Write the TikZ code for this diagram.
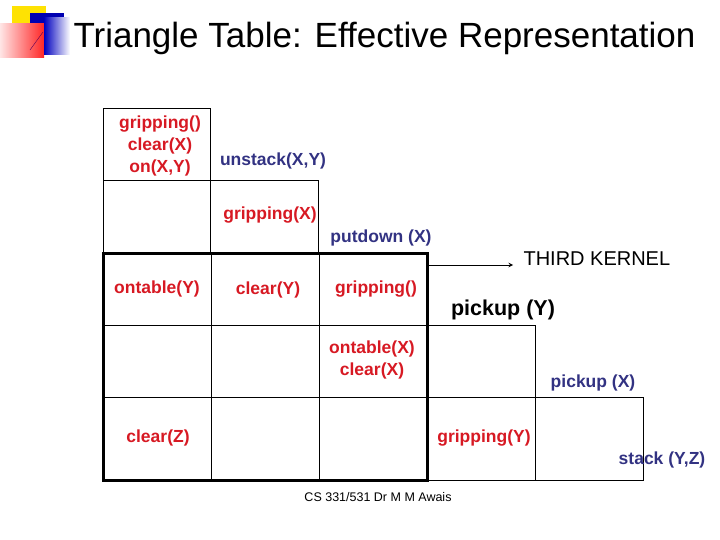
\documentclass[tikz,border=0pt]{standalone}
\usepackage{fontspec}
\setmainfont{Liberation Sans}
\definecolor{rd}{RGB}{215,25,35}
\definecolor{bl}{RGB}{50,50,130}
\begin{document}
\begin{tikzpicture}[x=1pt,y=-1pt,
  cell/.style={draw=black,line width=0.8pt},
  rtxt/.style={text=rd,font=\fontsize{17.5}{22}\selectfont\bfseries,align=center},
  btxt/.style={text=bl,font=\fontsize{17.5}{22}\selectfont\bfseries,align=center}]
\useasboundingbox (0,0) rectangle (720,540);
% logo
\fill[yellow!85!orange] (12,6) rectangle (46,26);
\fill[blue!70!black] (30,13) rectangle (64,53);
\shade[left color=red!10,right color=red!85] (0,24) rectangle (44,58);
\shade[left color=blue!75!black,right color=white] (44,18) rectangle (70,55);
\draw[violet!70!black] (30,50) -- (43,32);
\node[anchor=west,font=\fontsize{35}{38}\selectfont] (title) at (70,38) {Triangle Table: Effective Representation};
% grid
\draw[cell] (103,108) rectangle (210,180);
\draw[cell] (103,180) rectangle (210,253);
\draw[cell] (210,180) rectangle (318,253);
\foreach \r/\a/\b in {253/325/3,325/397/4,397/480/5}{
  \foreach \c in {1,...,\b}{
    \draw[cell] ({103+(\c-1)*108},\r) rectangle ({103+\c*108},\a);
  }
}
\draw[line width=3pt] (103,253) rectangle (427,480);
% texts
\node[rtxt] (t1) at (160,146) {gripping()\\clear(X)\\on(X,Y)};
\node[btxt] (u) at (273,161) {unstack(X,Y)};
\node[rtxt] (g1) at (270,215) {gripping(X)};
\node[btxt] (pd) at (381,238) {putdown (X)};
\node[rtxt] (o1) at (157,289) {ontable(Y)};
\node[rtxt] (c1) at (268,290) {clear(Y)};
\node[rtxt] (g2) at (376,289) {gripping()};
\coordinate (a0) at (427,265);
\node[font=\fontsize{20}{22}\selectfont,anchor=west] (tk) at (520,259) {THIRD KERNEL};
\draw[-stealth,line width=1pt] (a0) -- (513,265);
\node[font=\fontsize{21.5}{23}\selectfont\bfseries] (py) at (503,310) {pickup (Y)};
\node[rtxt] (o2) at (372,360) {ontable(X)\\clear(X)};
\node[btxt] (px) at (593,383) {pickup (X)};
\node[rtxt] (cz) at (158,438) {clear(Z)};
\node[rtxt] (gy) at (484,438) {gripping(Y)};
\node[btxt] (st) at (662,460) {stack (Y,Z)};
\node[font=\fontsize{12.5}{14}\selectfont] (ft) at (378,497) {CS 331/531 Dr M M Awais};
\end{tikzpicture}
\end{document}
